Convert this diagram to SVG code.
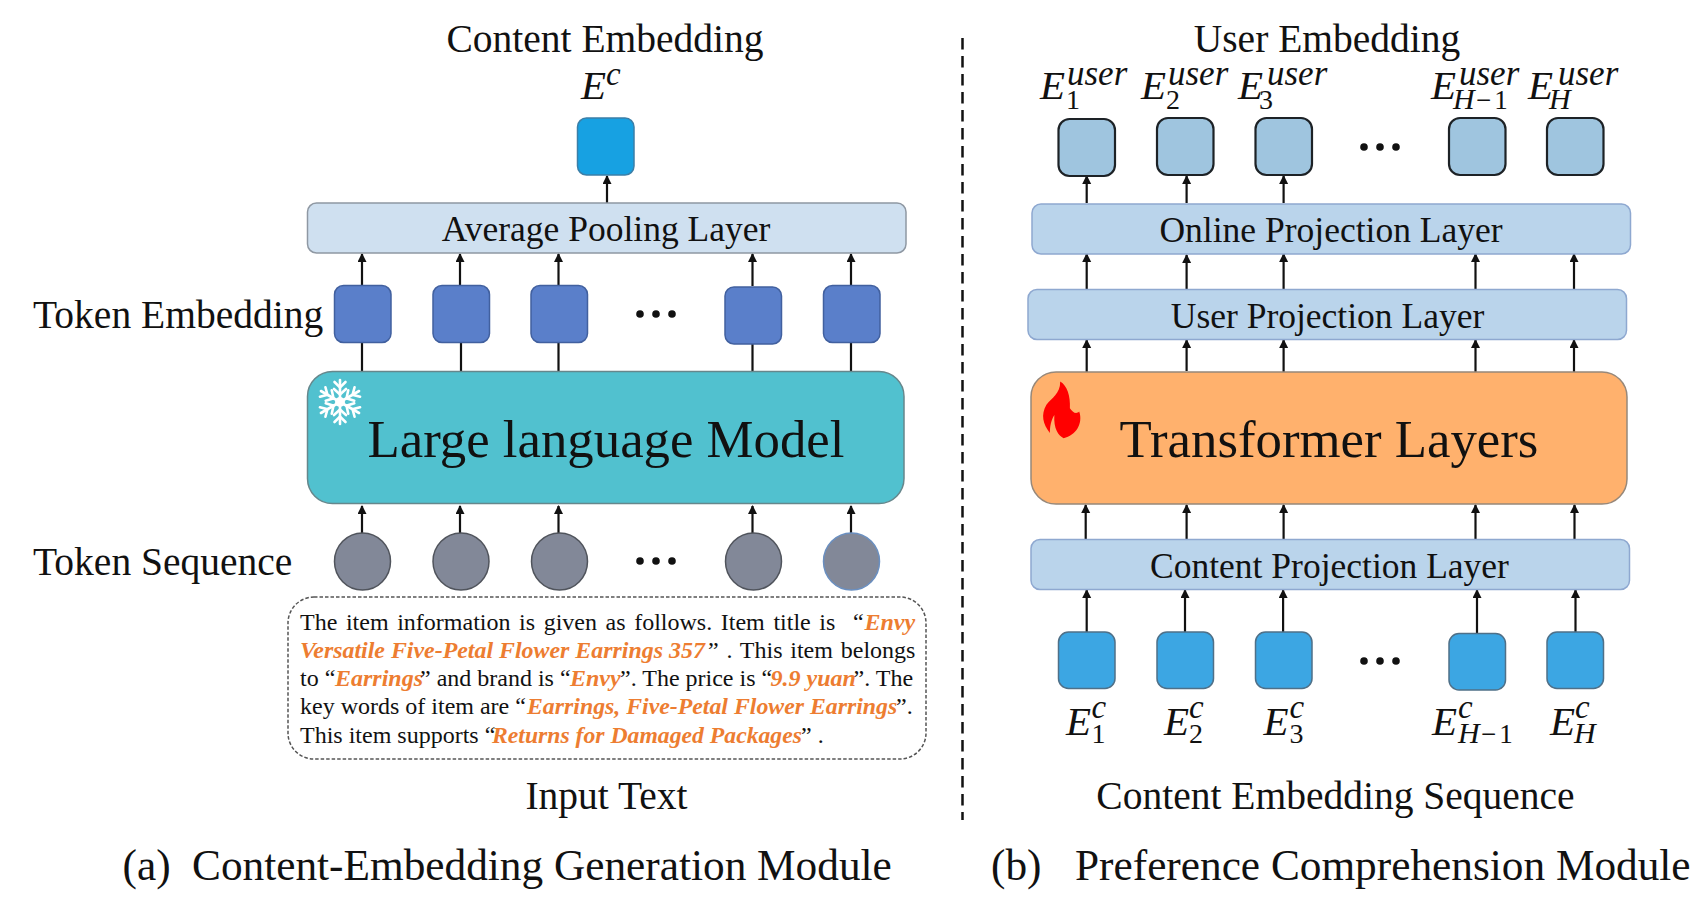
<svg xmlns="http://www.w3.org/2000/svg" width="1701" height="909" viewBox="0 0 1701 909">
<style>
text{font-family:"Liberation Serif","Times New Roman",serif;fill:#111}
.mid{text-anchor:middle}
.t39{font-size:39.5px}
.t36{font-size:35.500px}
.t54{font-size:52.800px}
.cap{font-size:43.300px}
.body{font-size:24px}
.hl{fill:#ed7d31;font-weight:bold;font-style:italic}
.e{font-style:italic;font-size:41px}
.sup{font-style:italic;font-size:35px}
.sc{font-style:italic;font-size:33px}
.sub{font-size:28px;font-style:normal}
.subm{font-size:27px;letter-spacing:3px;font-style:normal}
.subi{font-style:italic;font-size:30px}
.tok{fill:#5a7fca;stroke:#41609f;stroke-width:1.5}
.circ{fill:#828898;stroke:#50545c;stroke-width:1.5}
.usr{fill:#9fc5df;stroke:#1d2226;stroke-width:2.2}
.cnt{fill:#3ca6e3;stroke:#4f7088;stroke-width:1.5}
.proj{fill:#bad4eb;stroke:#8ea8d0;stroke-width:1.5}
.dot{fill:#111}
.conn path{fill:none;stroke:#111;stroke-width:2.2}
.arr{marker-end:url(#head)}
</style>
<defs>
<marker id="head" markerUnits="userSpaceOnUse" markerWidth="10" markerHeight="10" refX="8" refY="4.500" orient="auto"><path d="M0,0 L9,4.500 L0,9 Z" fill="#111"/></marker>
<g id="dots"><circle cx="-16" r="3.800" class="dot"/><circle r="3.800" class="dot"/><circle cx="16" r="3.800" class="dot"/></g>
<g id="arm" stroke="#fff" fill="none" stroke-width="2.600" stroke-linecap="round"><path d="M0,0 V-22"/><path d="M-5.500,-20 L0,-14.500 L5.500,-20"/><path d="M-6,-13 L0,-7.500 L6,-13"/></g>
</defs>

<g id="connectors" class="conn">
<path class="arr" d="M607,203V176"/>
<path class="arr" d="M362,285V254"/><path class="arr" d="M460,285V254"/><path class="arr" d="M558.500,285V254"/><path class="arr" d="M752.500,286V254"/><path class="arr" d="M851,285V254"/>
<path d="M362,371V342M461,371V342M558.500,371V342M752.500,371V343M851,371V342"/>
<path class="arr" d="M362,533V506"/><path class="arr" d="M460,533V506"/><path class="arr" d="M558.500,533V506"/><path class="arr" d="M752.500,533V506"/><path class="arr" d="M851,533V506"/>
<path class="arr" d="M1086.700,203V176"/><path class="arr" d="M1186.600,203V176"/><path class="arr" d="M1283.600,203V176"/>
<path class="arr" d="M1086.700,289V254"/><path class="arr" d="M1186.600,289V255"/><path class="arr" d="M1283.600,289V254"/><path class="arr" d="M1475.500,289V254"/><path class="arr" d="M1574,289V254"/>
<path class="arr" d="M1086.700,372V340"/><path class="arr" d="M1186.600,371V340"/><path class="arr" d="M1283.600,372V340"/><path class="arr" d="M1475.500,372V340"/><path class="arr" d="M1574,372V340"/>
<path class="arr" d="M1085.700,540V505"/><path class="arr" d="M1186.600,539V505"/><path class="arr" d="M1283.600,539V505"/><path class="arr" d="M1475.500,539V505"/><path class="arr" d="M1574.500,539V505"/>
<path class="arr" d="M1086.700,632V590"/><path class="arr" d="M1185,632V590"/><path class="arr" d="M1283.100,632V590"/><path class="arr" d="M1477,634V590"/><path class="arr" d="M1575.500,632V590"/>
</g>

<path id="divider" d="M962.500,38V820" fill="none" stroke="#111" stroke-width="2.500" stroke-dasharray="11.500 6.500"/>

<text id="content-title" class="t39 mid" x="605" y="52">Content Embedding</text>
<text id="ec-label" class="e" y="99"><tspan x="581">E</tspan><tspan class="sc" x="606" y="85">c</tspan></text>
<g id="ec-node"><rect x="577.500" y="118" width="56.500" height="57" rx="9" fill="#17a1e2" stroke="#3b7fa8" stroke-width="1.500"/></g>
<g id="average-pooling"><rect x="307.500" y="203" width="598.500" height="50" rx="9" fill="#cfe0f0" stroke="#8f98a3" stroke-width="1.500"/><text class="t36 mid" x="606" y="241">Average Pooling Layer</text></g>
<text id="token-embedding-label" class="t39" x="33" y="328">Token Embedding</text>
<g id="token-embeddings">
<rect class="tok" x="334.500" y="285.500" width="56.500" height="57" rx="9"/><rect class="tok" x="433" y="285.500" width="56.500" height="57" rx="9"/><rect class="tok" x="531" y="285.500" width="56.500" height="57" rx="9"/><rect class="tok" x="725" y="287" width="56.500" height="57" rx="9"/><rect class="tok" x="823.500" y="285.500" width="56.500" height="57" rx="9"/>
<use href="#dots" x="656" y="314"/>
</g>
<g id="llm"><rect x="307.500" y="371.500" width="596.500" height="132" rx="25" fill="#51c1cf" stroke="#66878c" stroke-width="1.500"/>
<text class="t54 mid" x="606" y="457">Large language Model</text>
<g id="snowflake" transform="translate(340 402)"><use href="#arm"/><use href="#arm" transform="rotate(60)"/><use href="#arm" transform="rotate(120)"/><use href="#arm" transform="rotate(180)"/><use href="#arm" transform="rotate(240)"/><use href="#arm" transform="rotate(300)"/><circle r="5" fill="#fff"/></g>
</g>
<text id="token-sequence-label" class="t39" x="33" y="575">Token Sequence</text>
<g id="token-sequence">
<ellipse class="circ" cx="362.500" cy="561.500" rx="28" ry="28.500"/><ellipse class="circ" cx="461" cy="561.500" rx="28" ry="28.500"/><ellipse class="circ" cx="559.500" cy="561.500" rx="28" ry="28.500"/><ellipse class="circ" cx="753.500" cy="561.500" rx="28" ry="28.500"/><ellipse class="circ" cx="851.500" cy="561.500" rx="28" ry="28.500" style="stroke:#6a8fc0"/>
<use href="#dots" x="656" y="561"/>
</g>
<g id="input-box"><rect x="288" y="597" width="638" height="162" rx="26" fill="none" stroke="#555" stroke-width="1.500" stroke-dasharray="3.500 2"/>
<text class="body" y="630"><tspan x="300" word-spacing="2.600">The item information is given as follows. Item title is</tspan><tspan x="853">“</tspan><tspan class="hl" x="864.500">Envy</tspan></text>
<text class="body" y="658"><tspan class="hl" x="300" style="font-size:23.9px">Versatile Five-Petal Flower Earrings 357</tspan><tspan x="708" word-spacing="1.800">” . This item belongs</tspan></text>
<text class="body" y="686"><tspan x="300">to “</tspan><tspan class="hl" x="335">Earrings</tspan><tspan x="420">” and brand is “</tspan><tspan class="hl" x="570">Envy</tspan><tspan x="620">”. The price is “</tspan><tspan class="hl" x="770.500">9.9 yuan</tspan><tspan x="853.500">”. The</tspan></text>
<text class="body" y="714"><tspan x="300">key words of item are “</tspan><tspan class="hl" x="527" style="font-size:23.800px">Earrings, Five-Petal Flower Earrings</tspan><tspan x="896">”.</tspan></text>
<text class="body" y="743"><tspan x="300">This item supports “</tspan><tspan class="hl" x="492" style="font-size:23.700px">Returns for Damaged Packages</tspan><tspan x="801">” .</tspan></text>
</g>
<text id="input-text-label" class="t39 mid" x="606.500" y="809">Input Text</text>
<text id="caption-a" class="cap" y="880"><tspan x="122.500">(a)</tspan><tspan x="192">Content-Embedding Generation Module</tspan></text>

<text id="user-title" class="t39 mid" x="1327" y="52">User Embedding</text>
<g id="user-labels">
<text class="e" y="99"><tspan x="1040">E</tspan><tspan class="sup" x="1067" y="85">user</tspan><tspan class="sub" x="1066" y="109">1</tspan></text>
<text class="e" y="99"><tspan x="1141">E</tspan><tspan class="sup" x="1168" y="85">user</tspan><tspan class="sub" x="1166" y="109">2</tspan></text>
<text class="e" y="99"><tspan x="1238">E</tspan><tspan class="sup" x="1267" y="85">user</tspan><tspan class="sub" x="1259" y="109">3</tspan></text>
<text class="e" y="99"><tspan x="1431">E</tspan><tspan class="sup" x="1459" y="85">user</tspan><tspan class="subi" x="1453" y="109">H</tspan><tspan class="subm" x="1476" y="109">−1</tspan></text>
<text class="e" y="99"><tspan x="1528">E</tspan><tspan class="sup" x="1558" y="85">user</tspan><tspan class="subi" x="1549" y="109">H</tspan></text>
</g>
<g id="user-nodes">
<rect class="usr" x="1058.500" y="119" width="56.500" height="57" rx="11"/><rect class="usr" x="1157" y="118" width="56.500" height="57" rx="11"/><rect class="usr" x="1255.500" y="118" width="56.500" height="57" rx="11"/><rect class="usr" x="1449" y="118" width="56.500" height="57" rx="11"/><rect class="usr" x="1547" y="118" width="56.500" height="57" rx="11"/>
<use href="#dots" x="1380" y="147"/>
</g>
<g id="online-projection"><rect class="proj" x="1032" y="204" width="598.500" height="50" rx="9"/><text class="t36 mid" x="1331" y="241.500">Online Projection Layer</text></g>
<g id="user-projection"><rect class="proj" x="1028" y="289.500" width="598.500" height="50" rx="9"/><text class="t36 mid" x="1327.500" y="327.500">User Projection Layer</text></g>
<g id="transformer"><rect x="1031" y="372" width="596" height="132" rx="25" fill="#ffb16d" stroke="#97887a" stroke-width="1.500"/>
<text class="t54 mid" x="1329" y="457">Transformer Layers</text>
<path id="flame" transform="translate(1024 365) scale(.345)" fill="#f00" d="M105 48C125 60 135 90 133 125C140 135 150 145 160 135C172 170 150 205 115 212C100 205 85 185 88 145C78 160 75 180 75 197C55 170 48 145 65 115C80 95 105 85 105 48Z"/>
</g>
<g id="content-projection"><rect class="proj" x="1031" y="539.500" width="598.500" height="50" rx="9"/><text class="t36 mid" x="1329.500" y="577.500">Content Projection Layer</text></g>
<g id="content-nodes">
<rect class="cnt" x="1058.500" y="632" width="56.500" height="56.500" rx="10"/><rect class="cnt" x="1157" y="632" width="56.500" height="56.500" rx="10"/><rect class="cnt" x="1255.500" y="632" width="56.500" height="56.500" rx="10"/><rect class="cnt" x="1449" y="633.500" width="56.500" height="56.500" rx="10"/><rect class="cnt" x="1547" y="632" width="56.500" height="56.500" rx="10"/>
<use href="#dots" x="1380" y="661"/>
</g>
<g id="content-labels">
<text class="e" y="735"><tspan x="1066">E</tspan><tspan class="sc" x="1091.500" y="718">c</tspan><tspan class="sub" x="1091.500" y="743">1</tspan></text>
<text class="e" y="735"><tspan x="1164">E</tspan><tspan class="sc" x="1189" y="718">c</tspan><tspan class="sub" x="1189" y="743">2</tspan></text>
<text class="e" y="735"><tspan x="1263.500">E</tspan><tspan class="sc" x="1289.500" y="718">c</tspan><tspan class="sub" x="1289.500" y="743">3</tspan></text>
<text class="e" y="735"><tspan x="1432">E</tspan><tspan class="sc" x="1458" y="718">c</tspan><tspan class="subi" x="1458" y="743">H</tspan><tspan class="subm" x="1481" y="743">−1</tspan></text>
<text class="e" y="735"><tspan x="1550">E</tspan><tspan class="sc" x="1575" y="718">c</tspan><tspan class="subi" x="1574" y="743">H</tspan></text>
</g>
<text id="content-seq-label" class="t39 mid" x="1335.500" y="809">Content Embedding Sequence</text>
<text id="caption-b" class="cap" y="880"><tspan x="991">(b)</tspan><tspan x="1075">Preference Comprehension Module</tspan></text>
</svg>
